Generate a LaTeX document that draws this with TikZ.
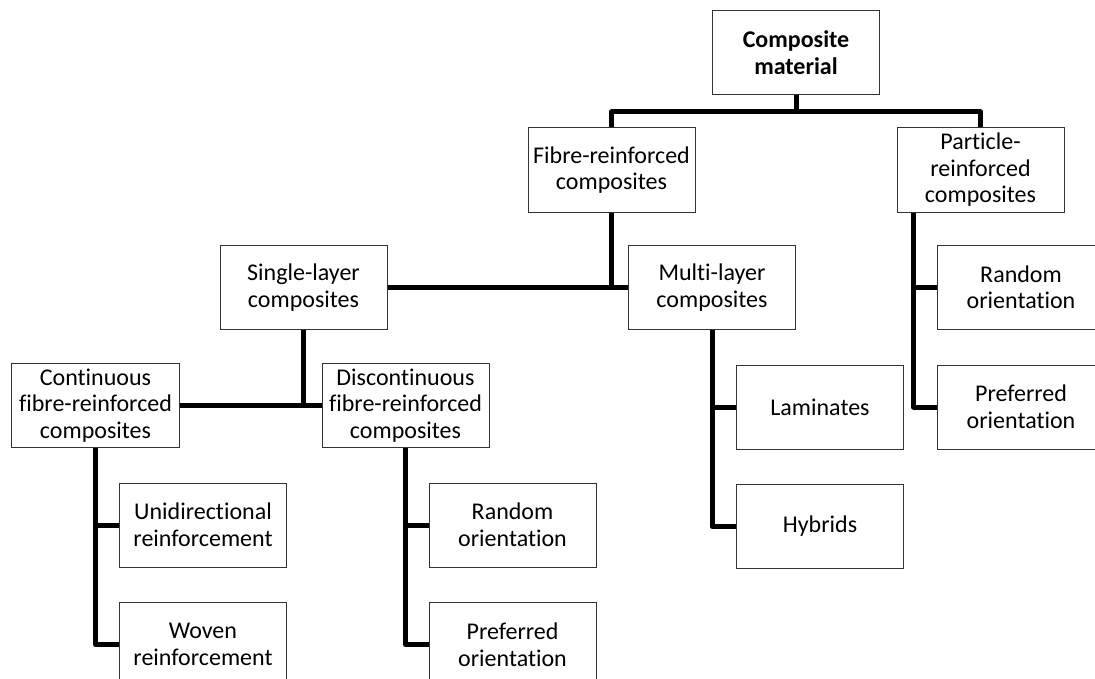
\documentclass[tikz,border=0pt]{standalone}
\usepackage{fontspec}
\setmainfont{Carlito}[Ligatures=NoCommon]
\usetikzlibrary{positioning}

\begin{document}
\begin{tikzpicture}[x=1bp,y=-1bp,
  node distance=34.5bp,
  box/.style={
    rectangle,
    draw=black!80,
    line width=1bp,
    minimum width=167bp,
    minimum height=84bp,
    inner sep=2bp,
    align=center,
    font=\fontsize{24bp}{26.5bp}\selectfont,
  },
  link/.style={
    draw=black,
    line width=5bp,
    line join=round,
  }]
\useasboundingbox (0,0) rectangle (1095,679);
\clip (0,0) rectangle (1095,679);
\node[box] (composite) at (796,52.5) {\textbf{Composite}\\\textbf{material}};
\node[box] (fibre) at (611.5,170) {Fibre-reinforced\\composites};
\node[box] (particle) [right=201bp of fibre] {Particle-\\reinforced\\composites};
\node[box] (single) at (303.5,287.5) {Single-layer\\composites};
\node[box] (multi) [right=240.5bp of single] {Multi-layer\\composites};
\node[box] (randomP) [right=141bp of multi] {Random\\orientation};
\node[box] (preferredP) [below=of randomP] {Preferred\\orientation};
\node[box] (continuous) at (95.5,405.5) {Continuous\\fibre-reinforced\\composites};
\node[box] (discont) [right=142bp of continuous] {Discontinuous\\fibre-reinforced\\composites};
\node[box] (laminates) [below=of multi, xshift=108bp] {Laminates};
\node[box] (hybrids) [below=of laminates] {Hybrids};
\node[box] (unidir) [below=of continuous, xshift=107.5bp] {Unidirectional\\reinforcement};
\node[box] (woven) [below=of unidir] {Woven\\reinforcement};
\node[box] (randomD) [below=of discont, xshift=107bp] {Random\\orientation};
\node[box] (preferredD) [below=of randomD] {Preferred\\orientation};
\path[link] (composite.south) -- ++(0,17) -| (fibre.north)
  (composite.south) -- ++(0,17) -| (particle.north)
  (fibre.south) |- (single.east)
  (fibre.south) |- (multi.west)
  (single.south) |- (continuous.east)
  (single.south) |- (discont.west)
  (continuous.south) |- (unidir.west)
  (continuous.south) |- (woven.west)
  (discont.south) |- (randomD.west)
  (discont.south) |- (preferredD.west)
  (multi.south) |- (laminates.west)
  (multi.south) |- (hybrids.west)
  ([xshift=17bp]particle.south west) |- (randomP.west)
  ([xshift=17bp]particle.south west) |- (preferredP.west);
\end{tikzpicture}
\end{document}
